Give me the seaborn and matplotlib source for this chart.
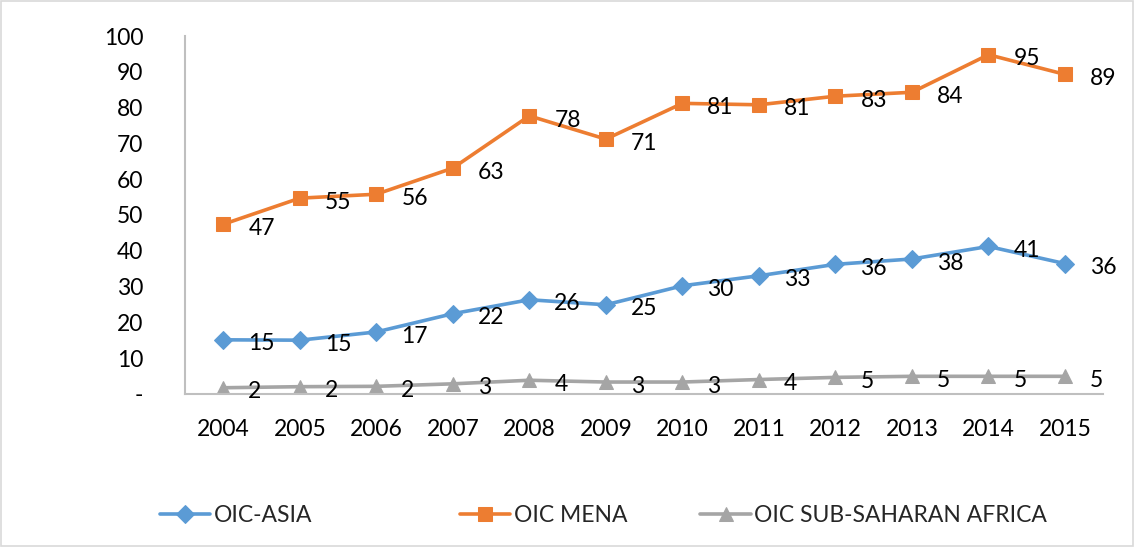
import pandas as pd
import seaborn as sns
import matplotlib.pyplot as plt
from matplotlib.patches import Rectangle

years = [2004, 2005, 2006, 2007, 2008, 2009, 2010, 2011, 2012, 2013, 2014, 2015]
oic_asia = [15.1, 15.0, 17.3, 22.4, 26.3, 24.9, 30.2, 33.0, 36.2, 37.7, 41.2, 36.4]
oic_mena = [47.4, 54.7, 55.8, 63.1, 77.7, 71.2, 81.2, 80.8, 83.2, 84.3, 94.8, 89.3]
oic_ssa = [1.7, 2.0, 2.1, 2.8, 3.8, 3.3, 3.3, 4.0, 4.6, 4.9, 4.9, 4.9]

series_names = ["OIC-ASIA", "OIC MENA", "OIC SUB-SAHARAN AFRICA"]
series_values = [oic_asia, oic_mena, oic_ssa]
colors = ["#5B9BD5", "#ED7D31", "#A5A5A5"]
markers = ["D", "s", "^"]
marker_sizes = [9, 10, 10]
legend_x = [0.141, 0.405, 0.617]


def make_plot():
    sns.set_theme(style="white")
    plt.rcParams['font.family'] = ['Lato', 'DejaVu Sans']

    f = plt.figure(figsize=(11.35, 5.47), dpi=100)
    ax = f.add_axes([0.163, 0.28, 0.809, 0.654])

    x = list(range(len(years)))
    handles = []
    for name, vals, c, m, ms in zip(series_names, series_values, colors, markers, marker_sizes):
        df = pd.DataFrame({"x": x, "y": vals})
        sns.lineplot(data=df, x="x", y="y", color=c, marker=m, markersize=ms,
                     markeredgecolor=c, linewidth=2.6, label=name, ax=ax)
        handles.append(ax.get_lines()[-1])
        # data labels to the right of each point
        for xi, yi in zip(x, vals):
            ax.annotate(f"{yi:.0f}", (xi, yi), xytext=(18, -3), textcoords="offset points",
                        ha="left", va="center", fontsize=16.5, color="black")

    ax.set_xlim(-0.5, len(years) - 0.5)
    ax.set_ylim(0, 100)
    ax.set_xticks(x)
    ax.set_xticklabels([str(y) for y in years])
    ax.set_yticks(range(0, 101, 10))
    ax.set_yticklabels(["-"] + [str(v) for v in range(10, 101, 10)])
    ax.tick_params(axis="both", length=0, labelsize=16.5, colors="black")
    ax.tick_params(axis="x", pad=18)
    ax.tick_params(axis="y", pad=30)
    ax.set_xlabel("")
    ax.set_ylabel("")
    ax.get_legend().remove()

    sns.despine(ax=ax)
    for s in ["left", "bottom"]:
        ax.spines[s].set_color("#BFBFBF")
        ax.spines[s].set_linewidth(1.5)

    # one legend entry per slot, like the Excel legend
    for h, name, lx in zip(handles, series_names, legend_x):
        f.legend([h], [name], loc="center left", bbox_to_anchor=(lx, 0.058), frameon=False,
                 fontsize=16.5, handlelength=2.2, handletextpad=0.15, borderaxespad=0, borderpad=0)

    # chart border
    f.patches.append(Rectangle((0.001, 0.002), 0.997, 0.996, transform=f.transFigure,
                               fill=False, edgecolor="#D9D9D9", linewidth=1.2))

    f.savefig("out.png", dpi=100)


make_plot()
